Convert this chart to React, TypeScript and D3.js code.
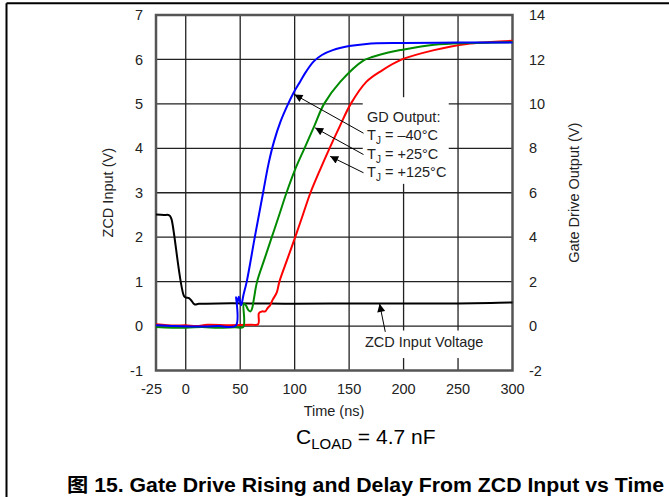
import React from 'react';
import * as d3 from 'd3';

// ---- data ----
const xGridTicks = [0, 50, 100, 150, 200, 250];
const xLabelValues = [-25, 0, 50, 100, 150, 200, 250, 300];
const leftTicks = [-1, 0, 1, 2, 3, 4, 5, 6, 7];
const rightTicks = [-2, 0, 2, 4, 6, 8, 10, 12, 14];
const yGridTicks = [0, 1, 2, 3, 4, 5, 6];

// ZCD input voltage (left axis, V)
const zcdT = [-27.3, -20, -16, -14.5, -13, -1.5, 0.5, 3, 5, 8, 12, 30, 60, 100, 150, 200, 250, 280, 300];
const zcdV = [2.51, 2.5, 2.5, 2.48, 2.4, 0.67, 0.64, 0.63, 0.58, 0.49, 0.5, 0.51, 0.51, 0.5, 0.51, 0.51, 0.51, 0.52, 0.53];

// Gate drive output (right axis, V)
const blueT = [-27.3, -10, 10, 30, 46, 46.3, 47.3, 48.8, 50.8, 53, 56, 63.4, 71, 76, 81, 87, 94, 99.5, 105, 110.5, 117.3, 125, 135, 150, 166, 200, 250, 300];
const blueV = [0.04, 0.0, -0.02, 0.0, 0.02, 1.3, 1.02, 1.32, 0.94, 1.4, 2.0, 4.0, 6.0, 7.3, 8.3, 9.2, 10.0, 10.55, 11.0, 11.45, 11.9, 12.2, 12.42, 12.6, 12.7, 12.74, 12.76, 12.76];

const greenT = [-27.3, 0, 15, 30, 45, 52.8, 53.2, 55, 57.5, 59.5, 61, 62.5, 65.5, 72.2, 79, 85.8, 92.5, 100, 109, 118, 127, 142, 163, 172, 185, 197, 228, 260, 300];
const greenV = [-0.04, -0.08, -0.04, -0.08, -0.05, -0.04, 1.0, 0.95, 0.72, 0.66, 0.8, 1.2, 2.0, 3.0, 4.0, 5.0, 6.0, 7.0, 8.0, 9.0, 10.0, 11.0, 11.95, 12.12, 12.3, 12.42, 12.66, 12.74, 12.78];

const redT = [-27.3, -10, 0, 10, 20, 40, 60, 66.5, 67, 68, 70, 73, 75, 77.5, 80, 83.5, 86, 93.2, 100.5, 107.5, 114.5, 123, 132, 141.5, 151.5, 166, 180, 198.5, 228, 258, 280, 300];
const redV = [0.08, 0.02, 0.04, 0.0, 0.06, 0.04, 0.06, 0.08, 0.55, 0.62, 0.66, 0.66, 0.8, 0.94, 1.2, 1.5, 2.0, 3.0, 4.0, 5.0, 6.0, 7.0, 8.0, 9.0, 10.0, 11.0, 11.5, 12.0, 12.42, 12.7, 12.78, 12.84];

const gdLabels = ['–40°C', '+25°C', '+125°C'];
// arrow tips (time ns, left-axis V) and tails
const arrowTipT = [99.8, 118.8, 132.6];
const arrowTipV = [5.21, 4.46, 3.82];
const arrowTailV = [4.34, 3.86, 3.45];

const FONT = "'Liberation Sans', Arial, Helvetica, sans-serif";

export default function App() {
  const W = 669, H = 497;
  const x = d3.scaleLinear().domain([-27.3, 300]).range([156, 512.5]);
  const yL = d3.scaleLinear().domain([-1, 7]).range([370.5, 15]);
  const yR = d3.scaleLinear().domain([-2, 14]).range([370.5, 15]);

  const curve = d3.curveCatmullRom.alpha(0.5);
  const lineL = d3.line<[number, number]>().x(d => x(d[0])).y(d => yL(d[1])).curve(curve);
  const lineR = d3.line<[number, number]>().x(d => x(d[0])).y(d => yR(d[1])).curve(curve);
  const zip = (a: number[], b: number[]) => a.map((v, i) => [v, b[i]] as [number, number]);

  const x0 = x.range()[0], x1 = x.range()[1];
  const y0 = yL.range()[1], y1 = yL.range()[0];

  const tailT = 163.2;
  const gdX = x(166.5);

  return (
    <svg width={W} height={H} style={{ position: 'absolute', left: 0, top: 0, background: '#fff' }} fontFamily={FONT}>
      <defs>
        <marker id="ah" viewBox="0 0 10 10" refX="10" refY="5" markerWidth="11" markerHeight="8" orient="auto" markerUnits="userSpaceOnUse">
          <path d="M0,0 L10,5 L0,10 z" fill="#000" />
        </marker>
      </defs>
      <rect x={0} y={0} width={W} height={H} fill="#fff" />
      {/* outer frame */}
      <line x1={6.5} y1={3.3} x2={W} y2={3.3} stroke="#000" strokeWidth={2} />
      <line x1={6.5} y1={3.3} x2={6.5} y2={H} stroke="#000" strokeWidth={2} />

      {/* grid */}
      {xGridTicks.map(t => (
        <line key={'gx' + t} x1={x(t)} x2={x(t)} y1={y0} y2={y1} stroke="#222" strokeWidth={1.3} />
      ))}
      {yGridTicks.map(v => (
        <line key={'gy' + v} x1={x0} x2={x1} y1={yL(v)} y2={yL(v)} stroke="#222" strokeWidth={1.3} />
      ))}

      {/* annotation backgrounds */}
      <rect x={x(162.5)} y={yL(5.15)} width={86} height={yL(3.2) - yL(5.15)} fill="#fff" />
      <rect x={x(162.5)} y={yL(-0.1)} width={128} height={yL(-0.72) - yL(-0.1)} fill="#fff" />

      {/* border */}
      <rect x={x0} y={y0} width={x1 - x0} height={y1 - y0} fill="none" stroke="#555" strokeWidth={2.5} />

      {/* traces */}
      <path d={lineL(zip(zcdT, zcdV)) || ''} fill="none" stroke="#000" strokeWidth={2} />
      <path d={lineR(zip(redT, redV)) || ''} fill="none" stroke="#ff0000" strokeWidth={2} />
      <path d={lineR(zip(greenT, greenV)) || ''} fill="none" stroke="#008a00" strokeWidth={2} />
      <path d={lineR(zip(blueT, blueV)) || ''} fill="none" stroke="#0000ff" strokeWidth={2} />

      {/* left ticks */}
      {leftTicks.map(v => (
        <text key={'lt' + v} x={143} y={yL(v)} dy="0.35em" textAnchor="end" fontSize={14.5} fill="#222">{v}</text>
      ))}
      {rightTicks.map(v => (
        <text key={'rt' + v} x={529} y={yR(v)} dy="0.35em" textAnchor="start" fontSize={14.5} fill="#222">{v}</text>
      ))}
      {xLabelValues.map(t => (
        <text key={'xt' + t} x={t === -25 ? x(t) - 7 : x(t)} y={394} textAnchor="middle" fontSize={14.5} fill="#222">{t}</text>
      ))}

      {/* axis titles */}
      <text x={334} y={416} textAnchor="middle" fontSize={14.5} fill="#222">Time (ns)</text>
      <text transform={`translate(113,${(y0 + y1) / 2}) rotate(-90)`} textAnchor="middle" fontSize={14.5} fill="#222">ZCD Input (V)</text>
      <text transform={`translate(579,${(y0 + y1) / 2}) rotate(-90)`} textAnchor="middle" fontSize={14.5} fill="#222">Gate Drive Output (V)</text>

      {/* GD annotation */}
      <text x={gdX} y={yL(4.6)} fontSize={14.5} fill="#222">GD Output:</text>
      {gdLabels.map((lab, i) => (
        <text key={'gd' + i} x={gdX} y={yL(4.6) + 18.5 * (i + 1)} fontSize={14.5} fill="#222">
          T<tspan dy={4} fontSize={10}>J</tspan><tspan dy={-4}>{' = ' + lab}</tspan>
        </text>
      ))}
      {arrowTipT.map((t, i) => (
        <line key={'ar' + i} x1={x(tailT)} y1={yL(arrowTailV[i])} x2={x(t)} y2={yL(arrowTipV[i])} stroke="#000" strokeWidth={1} markerEnd="url(#ah)" />
      ))}

      {/* ZCD annotation */}
      <line x1={x(183.2)} y1={yL(-0.13)} x2={x(178)} y2={yL(0.5)} stroke="#000" strokeWidth={1} markerEnd="url(#ah)" />
      <text x={x(164.5)} y={yL(-0.48)} fontSize={14.5} fill="#222">ZCD Input Voltage</text>

      {/* C_LOAD */}
      <text x={296} y={444} fontSize={21} fill="#000">
        C<tspan dy={5} fontSize={15}>LOAD</tspan><tspan dy={-5}> = 4.7 nF</tspan>
      </text>

      {/* caption */}
      <text x={67} y={492} fontSize={19.5} fontWeight="bold" fill="#000" textLength={597} lengthAdjust="spacingAndGlyphs" fontFamily={"'Liberation Sans', Arial, 'Noto Sans CJK SC', sans-serif"}>
        图 15. Gate Drive Rising and Delay From ZCD Input vs Time
      </text>
    </svg>
  );
}
